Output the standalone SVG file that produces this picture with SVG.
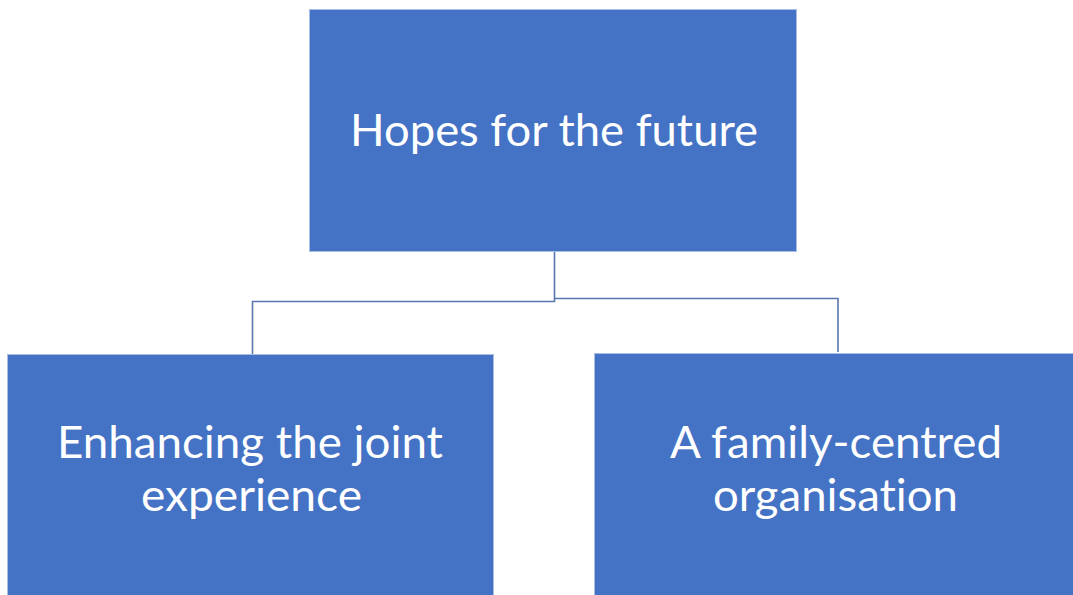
<svg xmlns="http://www.w3.org/2000/svg" width="1073" height="595" viewBox="0 0 1073 595">
  <style>
    .box { fill: #4472C4; stroke: #A9BEE3; stroke-width: 1; }
    .label { fill: #FFFFFF; font-family: Lato, "Open Sans", "Liberation Sans", sans-serif; font-size: 44px; text-anchor: middle; font-variant-ligatures: none; font-feature-settings: "liga" 0, "clig" 0; }
    .link { fill: none; stroke: #5A76AE; stroke-width: 1.6; }
  </style>
  <rect x="0" y="0" width="1073" height="595" fill="#FFFFFF"/>

  <!-- connectors: root to the two children -->
  <g id="connectors">
    <path class="link" d="M554.5 252 V301.5 H252.5 V354"/>
    <path class="link" d="M554.5 298.5 H838 V352"/>
  </g>

  <g id="node-root">
    <rect class="box" x="309.5" y="9.5" width="487" height="242"/>
    <text class="label" x="554" y="145.5" textLength="408" lengthAdjust="spacingAndGlyphs">Hopes for the future</text>
  </g>

  <g id="node-joint">
    <rect class="box" x="7.5" y="354.5" width="486" height="250"/>
    <text class="label" x="250" y="458" textLength="386" lengthAdjust="spacingAndGlyphs">Enhancing the joint</text>
    <text class="label" x="251.5" y="511" textLength="221" lengthAdjust="spacingAndGlyphs">experience</text>
  </g>

  <g id="node-family">
    <rect class="box" x="594.5" y="353.5" width="490" height="250"/>
    <text class="label" x="836" y="458" textLength="332" lengthAdjust="spacingAndGlyphs">A family-centred</text>
    <text class="label" x="835.5" y="511" textLength="245" lengthAdjust="spacingAndGlyphs">organisation</text>
  </g>
</svg>
